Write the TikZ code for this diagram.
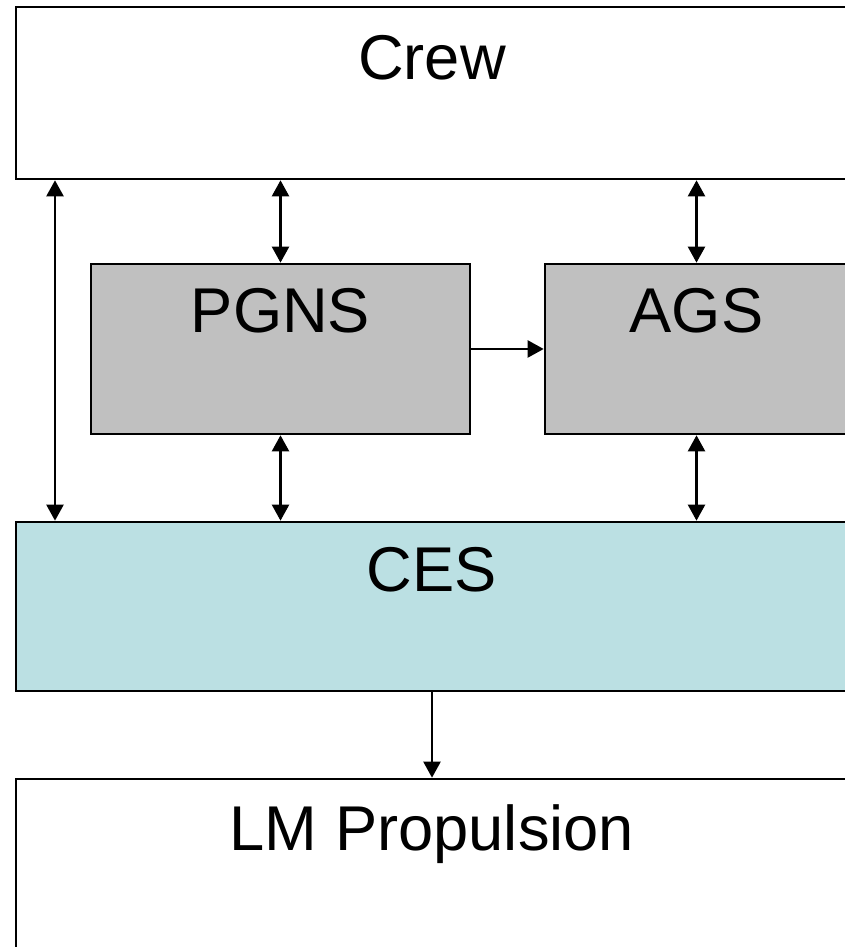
\documentclass[tikz,border=0pt]{standalone}
\usepackage{fontspec}
\setmainfont{Liberation Sans}
\usepackage{tikz}
\usetikzlibrary{positioning}
\usetikzlibrary{arrows.meta}
\definecolor{boxgray}{HTML}{C0C0C0}
\definecolor{boxblue}{HTML}{BBE0E3}
\tikzset{unit/.style={shape=rectangle, draw=black, line width=1.5pt, inner sep=0pt}}
\tikzset{title/.style={anchor=base, inner sep=0pt, font=\fontsize{36}{40}\selectfont}}
\tikzset{link/.style={line width=1.3pt, -{Triangle[length=0.32cm,width=0.34cm]}}}
\tikzset{twoway/.style={line width=1.3pt, {Triangle[length=0.32cm,width=0.34cm]}-{Triangle[length=0.32cm,width=0.34cm]}}}

\begin{document}
\begin{tikzpicture}
		\clip (0,0) rectangle (16.9,18.94);
		\fill[white] (0,0) rectangle (16.9,18.94);
		\node[unit, minimum width=16.64cm, minimum height=3.44cm] (crew) at (8.64,17.08) {};
		\node[unit, fill=boxgray, minimum width=7.58cm, minimum height=3.4cm] (pgns) at (5.61,11.96) {};
		\node[unit, fill=boxgray, minimum width=6.06cm, minimum height=3.4cm] (ags) at (13.93,11.96) {};
		\node[unit, fill=boxblue, minimum width=16.64cm, minimum height=3.38cm] (ces) at (8.64,6.81) {};
		\node[unit, minimum width=16.64cm, minimum height=3.44cm] (lm) at (8.64,1.64) {};
		\node[title] (crewtext) at ([yshift=-1.48cm]crew.north) {Crew};
		\node[title] (pgnstext) at ([yshift=-1.4cm]pgns.north) {PGNS};
		\node[title] (agstext) at ([yshift=-1.4cm]ags.north) {AGS};
		\node[title] (cestext) at ([yshift=-1.42cm]ces.north) {CES};
		\node[title] (lmtext) at ([yshift=-1.46cm]lm.north) {LM Propulsion};
		\coordinate (side) at (1.1,0);
		\path [twoway] (crew.south -| side) edge (ces.north -| side);
		\path [twoway] (crew.south -| pgns) edge (pgns.north);
		\path [twoway] (crew.south -| ags) edge (ags.north);
		\path [link] (pgns.east) edge (ags.west);
		\path [twoway] (pgns.south) edge (ces.north -| pgns);
		\path [twoway] (ags.south) edge (ces.north -| ags);
		\path [link] (ces.south) edge (lm.north);
	\end{tikzpicture}
\end{document}
